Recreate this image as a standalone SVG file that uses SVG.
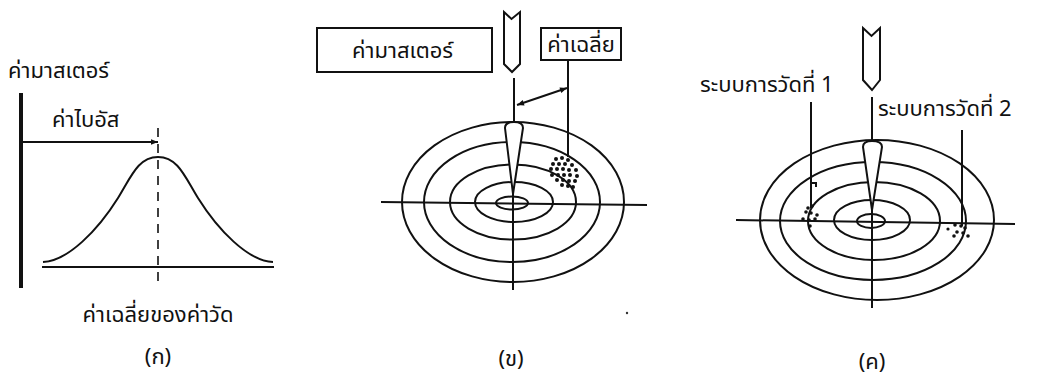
<svg xmlns="http://www.w3.org/2000/svg" width="1037" height="378" viewBox="0 0 1037 378">
<defs>
<style>
.ln{fill:none;stroke:#111;stroke-width:2}
.thk{fill:none;stroke:#111;stroke-width:4}
.dash{fill:none;stroke:#111;stroke-width:1.6;stroke-dasharray:9 7}
.t{font-family:"Noto Sans Thai","Noto Sans","DejaVu Sans","Liberation Sans",sans-serif;font-size:22px;fill:#111}
.dot{fill:#111}
</style>
<marker id="ah2" viewBox="0 0 10 10" refX="10" refY="5" markerWidth="10" markerHeight="7" orient="auto-start-reverse" markerUnits="userSpaceOnUse">
<path d="M0,1 L10,5 L0,9 z" fill="#111"/>
</marker>
</defs>
<rect width="1037" height="378" fill="#fff"/>

<!-- Panel A -->
<g id="panelA">
<text class="t" x="8" y="78">ค่ามาสเตอร์</text>
<line class="thk" x1="21" y1="93" x2="21" y2="288"/>
<text class="t" x="52" y="127">ค่าไบอัส</text>
<line class="dash" x1="158" y1="128" x2="158" y2="286"/>
<path class="ln" d="M43,262 C68,261 98,230 118,198 C131,177 138,157 158,157 C178,157 185,177 198,198 C218,230 248,261 273,262"/>
<line class="ln" x1="42" y1="267" x2="274" y2="267"/>
<text class="t" x="158" y="322" text-anchor="middle">ค่าเฉลี่ยของค่าวัด</text>
<text class="t" x="158" y="364" text-anchor="middle">(ก)</text>
</g>

<!-- Panel B -->
<g id="panelB">
<g id="boxMaster">
<rect class="ln" x="317" y="28" width="175" height="44"/>
<text class="t" x="352" y="58" font-size="21">ค่ามาสเตอร์</text>
</g>
<g id="boxMean">
<rect class="ln" x="541" y="28" width="80" height="32"/>
<text class="t" x="581" y="52" text-anchor="middle" font-size="20">ค่าเฉลี่ย</text>
</g>
<path class="ln" d="M504,12 L511.5,19 L520,12 L520,64 L512,72 L504,64 Z"/>
<g id="targetB">
<ellipse class="ln" cx="513" cy="202" rx="111" ry="80"/>
<ellipse class="ln" cx="512" cy="202" rx="88" ry="60"/>
<ellipse class="ln" cx="513" cy="202" rx="63" ry="37.5"/>
<ellipse class="ln" cx="514" cy="202" rx="39" ry="20"/>
<ellipse class="ln" cx="512" cy="203" rx="16" ry="6.5"/>
<line class="ln" x1="381" y1="202" x2="647" y2="205"/>
<line class="ln" x1="513" y1="130" x2="513" y2="290"/>
<path d="M505,128 Q505,122 514,122 Q523,122 523,128 L513,194 Z" fill="#fff" stroke="#111" stroke-width="2"/>
</g>
<g id="dotsB" class="dot">
<circle cx="556" cy="159" r="2"/><circle cx="562" cy="158" r="2"/><circle cx="568" cy="160" r="2"/>
<circle cx="553" cy="164" r="2"/><circle cx="559" cy="164" r="2"/><circle cx="565" cy="164" r="2"/><circle cx="572" cy="165" r="2"/>
<circle cx="551" cy="169" r="2"/><circle cx="557" cy="169" r="2"/><circle cx="563" cy="169" r="2"/><circle cx="569" cy="170" r="2"/><circle cx="576" cy="170" r="2"/>
<circle cx="552" cy="175" r="2"/><circle cx="558" cy="175" r="2"/><circle cx="564" cy="175" r="2"/><circle cx="570" cy="175" r="2"/><circle cx="577" cy="176" r="2"/>
<circle cx="557" cy="180" r="2"/><circle cx="563" cy="180" r="2"/><circle cx="569" cy="181" r="2"/><circle cx="575" cy="181" r="2"/>
<circle cx="562" cy="185" r="2"/><circle cx="568" cy="186" r="2"/><circle cx="573" cy="187" r="2"/>
</g>
<circle cx="627" cy="313" r="1.2" fill="#333"/>
<text class="t" x="511" y="366" text-anchor="middle">(ข)</text>
</g>

<!-- Panel C -->
<g id="panelC">
<text class="t" x="700" y="92">ระบบการวัดที่ 1</text>
<text class="t" x="878" y="116">ระบบการวัดที่  2</text>
<path class="ln" d="M863,28 L871.5,36 L880,28 L880,80 L872,90 L863,80 Z"/>
<g id="targetC">
<ellipse class="ln" cx="877" cy="220" rx="117" ry="80"/>
<ellipse class="ln" cx="873" cy="221" rx="93" ry="59"/>
<ellipse class="ln" cx="874" cy="221" rx="66" ry="39"/>
<ellipse class="ln" cx="872" cy="220" rx="38" ry="20"/>
<ellipse class="ln" cx="871" cy="221" rx="14" ry="7"/>
<line class="ln" x1="736" y1="220" x2="1015" y2="224"/>
<line class="ln" x1="872" y1="148" x2="872" y2="308"/>
<path d="M863,147 Q863,141 872,141 Q882,141 882,147 L872,210 Z" fill="#fff" stroke="#111" stroke-width="2"/>
</g>
<g id="dotsC1" class="dot">
<circle cx="808" cy="208" r="1.8"/><circle cx="812" cy="206" r="1.8"/><circle cx="806" cy="212" r="1.8"/><circle cx="811" cy="213" r="1.8"/>
<circle cx="817" cy="215" r="1.8"/><circle cx="803" cy="219" r="1.8"/><circle cx="809" cy="220" r="1.8"/><circle cx="815" cy="219" r="1.8"/><circle cx="810" cy="226" r="1.8"/>
</g>
<path class="ln" stroke-width="1.5" d="M811,183 L816,183 L816,187"/>
<g id="dotsC2" class="dot">
<circle cx="955" cy="225" r="1.8"/><circle cx="961" cy="226" r="1.8"/><circle cx="965" cy="228" r="1.8"/><circle cx="948" cy="229" r="1.6"/>
<circle cx="957" cy="232" r="1.8"/><circle cx="963" cy="233" r="1.8"/><circle cx="968" cy="236" r="1.8"/><circle cx="954" cy="236" r="1.8"/>
</g>
<text class="t" x="872" y="369" text-anchor="middle">(ค)</text>
</g>

<!-- connectors -->
<g id="connectors">
<line class="ln" x1="23" y1="142" x2="158" y2="142" marker-end="url(#ah2)"/>
<line class="ln" x1="514" y1="78" x2="514" y2="122"/>
<line class="ln" x1="568" y1="60" x2="568" y2="157"/>
<line class="ln" stroke-width="1.6" x1="517" y1="105" x2="567" y2="88" marker-start="url(#ah2)" marker-end="url(#ah2)"/>
<line class="ln" x1="811" y1="102" x2="811" y2="208"/>
<line class="ln" x1="872" y1="97" x2="872" y2="141"/>
<line class="ln" x1="962" y1="130" x2="962" y2="226"/>
</g>
</svg>
